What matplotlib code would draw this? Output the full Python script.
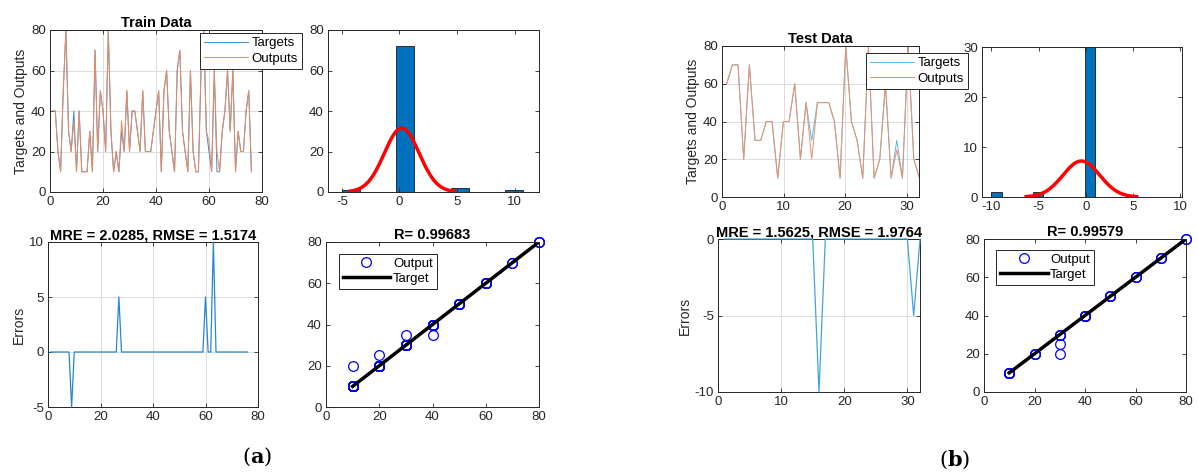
import numpy as np
import matplotlib.pyplot as plt

plt.rcParams['font.family'] = ['Liberation Sans', 'DejaVu Sans']
plt.rcParams['mathtext.fontset'] = 'dejavuserif'
plt.rcParams['axes.unicode_minus'] = False

# Train data (a)
train_targets = [40, 40, 20, 10, 50, 80, 30, 20, 40, 10,
                 40, 10, 10, 10, 30, 10, 70, 20, 50, 40,
                 20, 80, 30, 10, 20, 10, 30, 20, 50, 20,
                 40, 40, 30, 20, 50, 20, 20, 20, 30, 40,
                 50, 10, 50, 60, 30, 20, 10, 60, 70, 30,
                 20, 10, 60, 20, 10, 10, 60, 80, 30, 20,
                 10, 60, 10, 10, 30, 40, 60, 30, 60, 10,
                 30, 20, 20, 40, 50, 10]
train_outputs = [40, 40, 20, 10, 50, 80, 30, 20, 35, 10,
                 40, 10, 10, 10, 30, 10, 70, 20, 50, 40,
                 20, 80, 30, 10, 20, 10, 35, 20, 50, 20,
                 40, 40, 30, 20, 50, 20, 20, 20, 30, 40,
                 50, 10, 50, 60, 30, 20, 10, 60, 70, 30,
                 20, 10, 60, 20, 10, 10, 60, 80, 30, 25,
                 10, 60, 20, 10, 30, 40, 60, 30, 60, 10,
                 30, 20, 20, 40, 50, 10]
train_title = 'MRE = 2.0285, RMSE = 1.5174'
train_r = 'R= 0.99683'

# Test data (b)
test_targets = [60, 70, 70, 20, 70, 30, 30, 40, 40, 10,
                40, 40, 60, 20, 50, 30, 50, 50, 50, 40,
                10, 80, 40, 30, 10, 80, 10, 20, 60, 10,
                30, 10, 80, 20, 10]
test_outputs = [60, 70, 70, 20, 70, 30, 30, 40, 40, 10,
                40, 40, 60, 20, 50, 20, 50, 50, 50, 40,
                10, 80, 40, 30, 10, 80, 10, 20, 60, 10,
                25, 10, 80, 20, 10]
n_test = 32
test_title = 'MRE = 1.5625, RMSE = 1.9764'
test_r = 'R= 0.99579'

W, H = 1198, 475
fig = plt.figure(figsize=(W / 100, H / 100), dpi=100)

AX_COL = '#262626'


def add_ax(left, top, right, bottom, grid=False):
    ax = fig.add_axes([left / W, 1 - bottom / H, (right - left) / W, (bottom - top) / H])
    ax.tick_params(direction='in', top=True, right=True, labelsize=9.5,
                   colors=AX_COL, length=3, width=0.6, pad=3)
    for s in ax.spines.values():
        s.set_color(AX_COL)
        s.set_linewidth(0.7)
    if grid:
        ax.grid(True, color='#dcdcdc', linewidth=0.7)
        ax.set_axisbelow(True)
    return ax


def series_panel(ax, x, t, o, xlim, ticks, tcol, ocol, title, leg_xy):
    ax.plot(x, t, color=tcol, lw=0.7, label='Targets')
    ax.plot(x, o, color=ocol, lw=0.7, label='Outputs')
    ax.set_xlim(*xlim)
    ax.set_ylim(0, 80)
    ax.set_xticks(ticks)
    ax.set_yticks([0, 20, 40, 60, 80])
    ax.set_title(title, fontsize=10.5, fontweight='bold', pad=2)
    ax.set_ylabel('Targets and Outputs', fontsize=10, color=AX_COL, labelpad=2)
    leg = ax.legend(loc='upper left', bbox_to_anchor=(leg_xy[0] / W, 1 - leg_xy[1] / H),
                    bbox_transform=fig.transFigure, fontsize=9.5, fancybox=False,
                    framealpha=1, edgecolor=AX_COL, borderaxespad=0, handlelength=3.3,
                    handletextpad=0.3, borderpad=0.3, labelspacing=0.25)
    leg.get_frame().set_linewidth(0.7)
    ax.set_zorder(5)


def hist_panel(ax, err, edges, xlim, ylim, ticks, yticks):
    err = np.asarray(err, dtype=float)
    ax.hist(err, bins=edges, color='#0072BD', edgecolor='#1a1a1a', linewidth=0.6)
    mu, sd = err.mean(), err.std(ddof=1)
    bw = edges[1] - edges[0]
    xs = np.linspace(mu - 3 * sd, mu + 3 * sd, 200)
    ys = len(err) * bw * np.exp(-0.5 * ((xs - mu) / sd) ** 2) / (sd * np.sqrt(2 * np.pi))
    ax.plot(xs, ys, color='red', lw=2.5)
    ax.set_xlim(*xlim)
    ax.set_ylim(*ylim)
    ax.set_xticks(ticks)
    ax.set_yticks(yticks)


def error_panel(ax, err, xlim, ylim, yticks, xticks, title, col):
    x = np.arange(1, len(err) + 1)
    ax.plot(x, err, color=col, lw=0.9, clip_on=False, zorder=4)
    ax.set_xlim(*xlim)
    ax.set_ylim(*ylim)
    ax.set_yticks(yticks)
    ax.set_xticks(xticks)
    ax.set_title(title, fontsize=10.5, fontweight='bold', pad=2)
    ax.set_ylabel('Errors', fontsize=10, color=AX_COL, labelpad=2)


def reg_panel(ax, t, o, title):
    t = np.asarray(t)
    ax.plot(t, o, 'o', mfc='none', mec='blue', ms=7, mew=0.9, label='Output', clip_on=False)
    line = np.array([t.min(), t.max()])
    ax.plot(line, line, color='black', lw=2.5, label='Target')
    ax.set_xlim(0, 80)
    ax.set_ylim(0, 80)
    ax.set_xticks([0, 20, 40, 60, 80])
    ax.set_yticks([0, 20, 40, 60, 80])
    ax.set_title(title, fontsize=10.5, fontweight='bold', pad=2)
    leg = ax.legend(loc='upper left', bbox_to_anchor=(0.06, 0.93), fontsize=9.5,
                    fancybox=False, framealpha=1, edgecolor=AX_COL, borderaxespad=0,
                    handlelength=3.6, handletextpad=0.2, borderpad=0.3, labelspacing=0.2)
    leg.get_frame().set_linewidth(0.7)


# ---- (a) train ----
tr_t = np.array(train_targets)
tr_o = np.array(train_outputs)
tr_err = tr_o - tr_t
tr_x = np.arange(1, len(tr_t) + 1)

ax1 = add_ax(50, 30, 262, 192, grid=True)
series_panel(ax1, tr_x, tr_t, tr_o, (0, 80), [0, 20, 40, 60, 80],
             '#3C8FD0', '#EC8A62', 'Train Data', (200, 33))

ax2 = add_ax(328, 30, 539, 192)
hist_panel(ax2, tr_err, -5 + 1.575 * np.arange(11), (-6.2, 12.1), (0, 80),
           [-5, 0, 5, 10], [0, 20, 40, 60, 80])

ax3 = add_ax(48, 242, 258, 407, grid=True)
error_panel(ax3, tr_err, (0, 80), (-5, 10), [-5, 0, 5, 10], [0, 20, 40, 60, 80],
            train_title, '#2A86CC')

ax4 = add_ax(326, 242, 539, 407)
reg_panel(ax4, tr_t, tr_o, train_r)

# ---- (b) test ----
te_t = np.array(test_targets)
te_o = np.array(test_outputs)
te_err = (te_o - te_t)[:n_test]
te_x = np.arange(1, len(te_t) + 1) * 0.921 - 0.16

ax5 = add_ax(722, 46, 919, 197, grid=True)
series_panel(ax5, te_x, te_t, te_o, (0, 32), [0, 10, 20, 30],
             '#5BB8E8', '#F0906A', 'Test Data', (866, 53))

ax6 = add_ax(982, 47, 1182, 197)
hist_panel(ax6, te_err, -10 + 1.1 * np.arange(11), (-11, 10.2), (0, 30),
           [-10, -5, 0, 5, 10], [0, 10, 20, 30])

ax7 = add_ax(718, 239, 920, 392, grid=True)
error_panel(ax7, te_err, (0, 32), (-10, 0), [-10, -5, 0], [0, 10, 20, 30],
            test_title, '#3FA4DE')

ax8 = add_ax(984, 239, 1186, 392)
reg_panel(ax8, te_t[:n_test], te_o[:n_test], test_r)

fig.text(257 / W, 1 - 457 / H, r'$(\mathbf{a})$', fontsize=15, ha='center', va='center')
fig.text(955 / W, 1 - 460 / H, r'$(\mathbf{b})$', fontsize=15, ha='center', va='center')

fig.savefig('out.png', dpi=100)
